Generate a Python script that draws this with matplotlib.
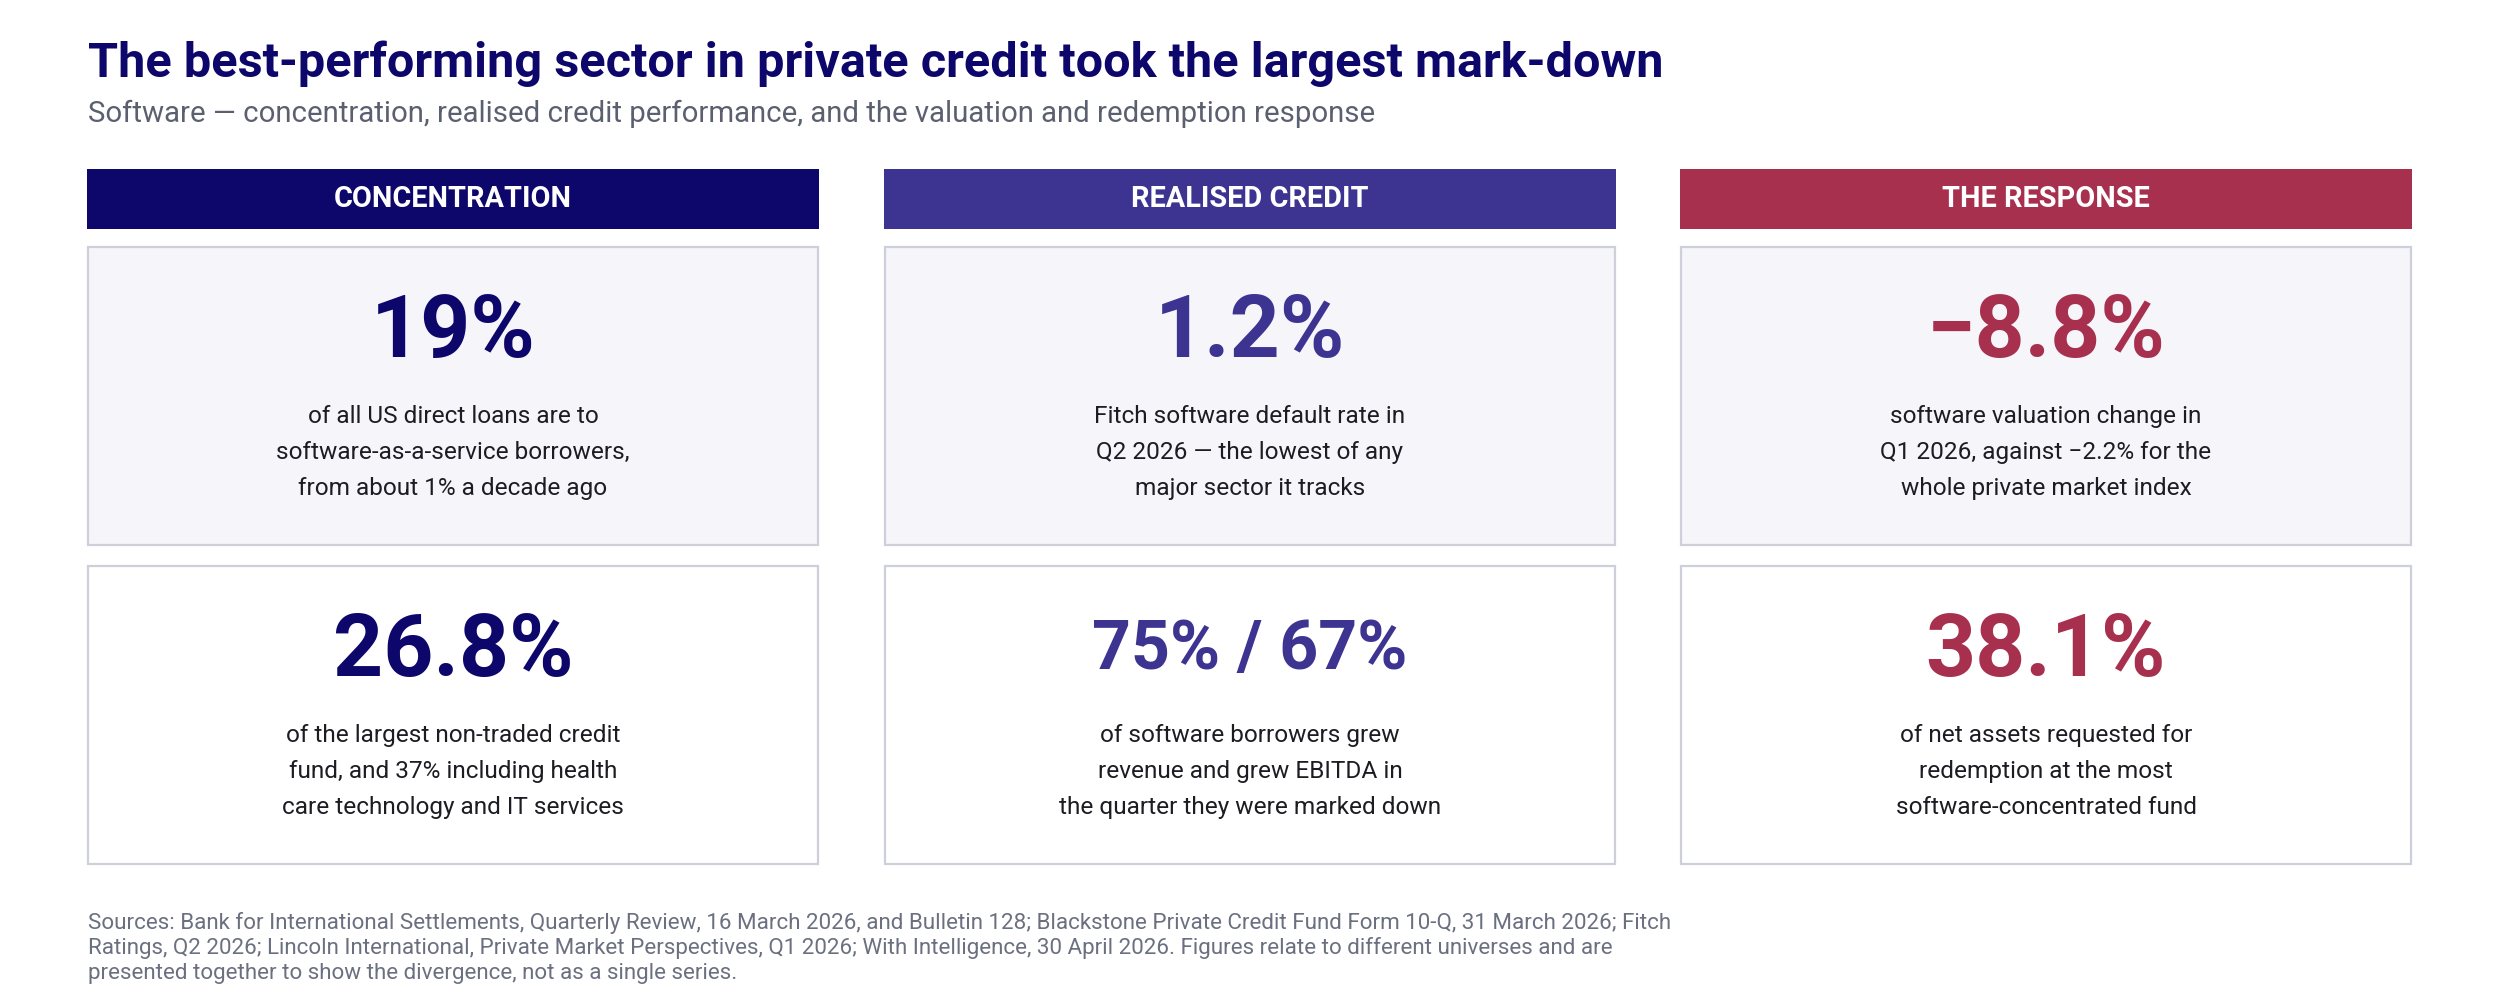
import matplotlib
matplotlib.use("Agg")
import matplotlib.pyplot as plt
from matplotlib.patches import Rectangle

# ---- data ----
title = "The best-performing sector in private credit took the largest mark-down"
subtitle = "Software \u2014 concentration, realised credit performance, and the valuation and redemption response"
col_titles = ["CONCENTRATION", "REALISED CREDIT", "THE RESPONSE"]
col_colors = ["#0d066b", "#3d3491", "#a8304f"]
top_values = ["19%", "1.2%", "\u22128.8%"]
top_texts = [
    ["of all US direct loans are to", "software-as-a-service borrowers,", "from about 1% a decade ago"],
    ["Fitch software default rate in", "Q2 2026 \u2014 the lowest of any", "major sector it tracks"],
    ["software valuation change in", "Q1 2026, against \u22122.2% for the", "whole private market index"],
]
bottom_values = ["26.8%", "75% / 67%", "38.1%"]
bottom_texts = [
    ["of the largest non-traded credit", "fund, and 37% including health", "care technology and IT services"],
    ["of software borrowers grew", "revenue and grew EBITDA in", "the quarter they were marked down"],
    ["of net assets requested for", "redemption at the most", "software-concentrated fund"],
]
sources = [
    "Sources: Bank for International Settlements, Quarterly Review, 16 March 2026, and Bulletin 128; Blackstone Private Credit Fund Form 10-Q, 31 March 2026; Fitch",
    "Ratings, Q2 2026; Lincoln International, Private Market Perspectives, Q1 2026; With Intelligence, 30 April 2026. Figures relate to different universes and are",
    "presented together to show the divergence, not as a single series.",
]

# ---- layout ----
W, H = 2500, 993
fig = plt.figure(figsize=(W / 100, H / 100), dpi=100)
ax = fig.add_axes([0, 0, 1, 1])
ax.set_xlim(0, W)
ax.set_ylim(H, 0)
ax.axis("off")

FONT = "Roboto"
PT = 100 / 72.0  # px per pt
CAP = 0.711

col_x = [87, 884, 1680]
col_w = 732
hdr_top, hdr_bot = 169, 229
rows = [(247, 545, "#f5f5fa"), (566, 864, "#ffffff")]
border = "#cdd0da"

ax.text(88, 77, title, fontsize=35.0, fontweight="bold", color="#0d066b",
        family=FONT, va="baseline", ha="left")
ax.text(88, 122, subtitle, fontsize=21.2, color="#5b6070",
        family=FONT, va="baseline", ha="left")

def big_value(x, center_y, s, color):
    size = 63
    if len(s) > 6:
        size = 49
    base = center_y + CAP * size * PT / 2
    ax.text(x, base, s, fontsize=size, fontweight="bold", color=color,
            family=FONT, va="baseline", ha="center")

for i in range(3):
    x0 = col_x[i]
    cx = x0 + col_w / 2
    ax.add_patch(Rectangle((x0, hdr_top), col_w, hdr_bot - hdr_top,
                           facecolor=col_colors[i], edgecolor="none"))
    ax.text(cx, 207, col_titles[i], fontsize=20.8, fontweight="bold",
            color="white", family=FONT, va="baseline", ha="center")
    for r, (vals, texts) in enumerate([(top_values, top_texts), (bottom_values, bottom_texts)]):
        t, b, fc = rows[r]
        ax.add_patch(Rectangle((x0 + 1, t), col_w - 2, b - t, facecolor=fc,
                               edgecolor=border, linewidth=1.6))
        big_value(cx, t + 78.5, vals[i], col_colors[i])
        for k, line in enumerate(texts[i]):
            ax.text(cx, t + 176 + 36 * k, line, fontsize=17.6, color="#1c1c22",
                    family=FONT, va="baseline", ha="center")

for k, line in enumerate(sources):
    ax.text(88, 929 + 25 * k, line, fontsize=16.1, color="#6b7080",
            family=FONT, va="baseline", ha="left")

fig.savefig("out.png", dpi=100, facecolor="white")
